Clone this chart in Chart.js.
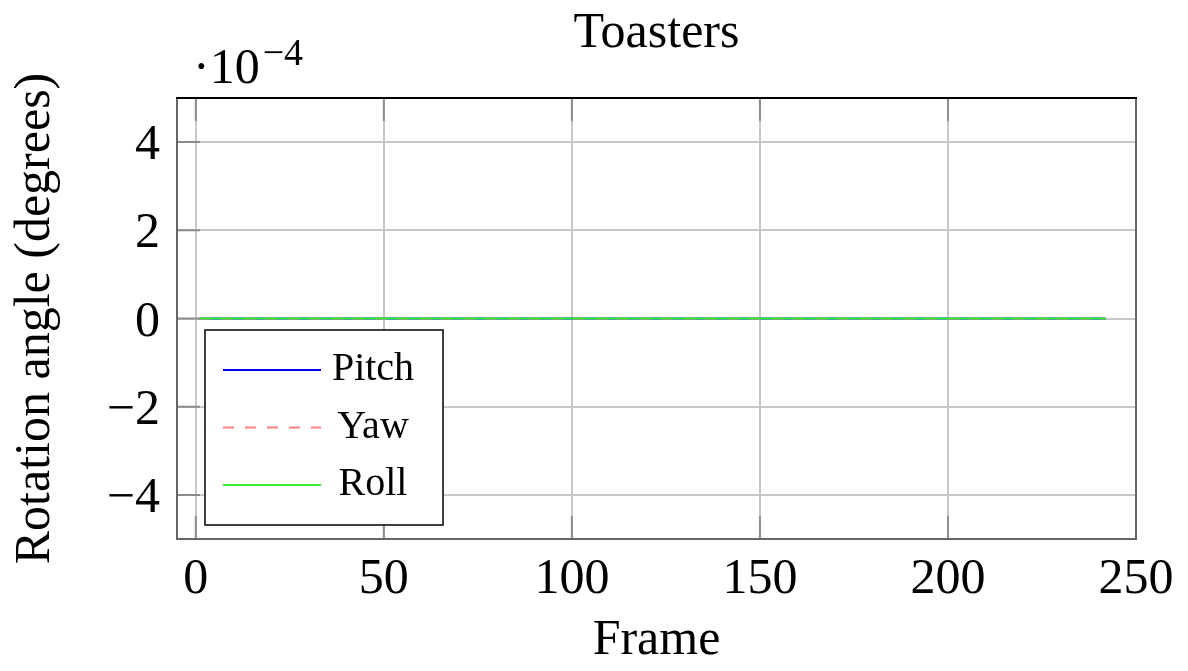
<!DOCTYPE html>
<html>
<head>
<meta charset="utf-8">
<script src="https://cdn.jsdelivr.net/npm/chart.js@4"></script>
<style>
  html, body { margin: 0; padding: 0; background: #fff; }
  #wrap { width: 1188px; height: 671px; }
</style>
</head>
<body>
<div id="wrap"><canvas id="c" width="1188" height="671"></canvas></div>
<script>
// Frame numbers of the sequence
const frames = [
  1,2,3,4,5,6,7,8,9,10,11,12,13,14,15,16,17,18,19,20,
  21,22,23,24,25,26,27,28,29,30,31,32,33,34,35,36,37,38,39,40,
  41,42,43,44,45,46,47,48,49,50,51,52,53,54,55,56,57,58,59,60,
  61,62,63,64,65,66,67,68,69,70,71,72,73,74,75,76,77,78,79,80,
  81,82,83,84,85,86,87,88,89,90,91,92,93,94,95,96,97,98,99,100,
  101,102,103,104,105,106,107,108,109,110,111,112,113,114,115,116,117,118,119,120,
  121,122,123,124,125,126,127,128,129,130,131,132,133,134,135,136,137,138,139,140,
  141,142,143,144,145,146,147,148,149,150,151,152,153,154,155,156,157,158,159,160,
  161,162,163,164,165,166,167,168,169,170,171,172,173,174,175,176,177,178,179,180,
  181,182,183,184,185,186,187,188,189,190,191,192,193,194,195,196,197,198,199,200,
  201,202,203,204,205,206,207,208,209,210,211,212,213,214,215,216,217,218,219,220,
  221,222,223,224,225,226,227,228,229,230,231,232,233,234,235,236,237,238,239,240,
  241,242
];

// Rotation angles per frame, in degrees
const pitch = [
  0,0,0,0,0,0,0,0,0,0, 0,0,0,0,0,0,0,0,0,0, 0,0,
  0,0,0,0,0,0,0,0,0,0, 0,0,0,0,0,0,0,0,0,0, 0,0,
  0,0,0,0,0,0,0,0,0,0, 0,0,0,0,0,0,0,0,0,0, 0,0,
  0,0,0,0,0,0,0,0,0,0, 0,0,0,0,0,0,0,0,0,0, 0,0,
  0,0,0,0,0,0,0,0,0,0, 0,0,0,0,0,0,0,0,0,0, 0,0,
  0,0,0,0,0,0,0,0,0,0, 0,0,0,0,0,0,0,0,0,0, 0,0,
  0,0,0,0,0,0,0,0,0,0, 0,0,0,0,0,0,0,0,0,0, 0,0,
  0,0,0,0,0,0,0,0,0,0, 0,0,0,0,0,0,0,0,0,0, 0,0,
  0,0,0,0,0,0,0,0,0,0, 0,0,0,0,0,0,0,0,0,0, 0,0,
  0,0,0,0,0,0,0,0,0,0, 0,0,0,0,0,0,0,0,0,0, 0,0,
  0,0,0,0,0,0,0,0,0,0, 0,0,0,0,0,0,0,0,0,0, 0,0
];
const yaw = [
  0,0,0,0,0,0,0,0,0,0, 0,0,0,0,0,0,0,0,0,0, 0,0,
  0,0,0,0,0,0,0,0,0,0, 0,0,0,0,0,0,0,0,0,0, 0,0,
  0,0,0,0,0,0,0,0,0,0, 0,0,0,0,0,0,0,0,0,0, 0,0,
  0,0,0,0,0,0,0,0,0,0, 0,0,0,0,0,0,0,0,0,0, 0,0,
  0,0,0,0,0,0,0,0,0,0, 0,0,0,0,0,0,0,0,0,0, 0,0,
  0,0,0,0,0,0,0,0,0,0, 0,0,0,0,0,0,0,0,0,0, 0,0,
  0,0,0,0,0,0,0,0,0,0, 0,0,0,0,0,0,0,0,0,0, 0,0,
  0,0,0,0,0,0,0,0,0,0, 0,0,0,0,0,0,0,0,0,0, 0,0,
  0,0,0,0,0,0,0,0,0,0, 0,0,0,0,0,0,0,0,0,0, 0,0,
  0,0,0,0,0,0,0,0,0,0, 0,0,0,0,0,0,0,0,0,0, 0,0,
  0,0,0,0,0,0,0,0,0,0, 0,0,0,0,0,0,0,0,0,0, 0,0
];
const roll = [
  0,0,0,0,0,0,0,0,0,0, 0,0,0,0,0,0,0,0,0,0, 0,0,
  0,0,0,0,0,0,0,0,0,0, 0,0,0,0,0,0,0,0,0,0, 0,0,
  0,0,0,0,0,0,0,0,0,0, 0,0,0,0,0,0,0,0,0,0, 0,0,
  0,0,0,0,0,0,0,0,0,0, 0,0,0,0,0,0,0,0,0,0, 0,0,
  0,0,0,0,0,0,0,0,0,0, 0,0,0,0,0,0,0,0,0,0, 0,0,
  0,0,0,0,0,0,0,0,0,0, 0,0,0,0,0,0,0,0,0,0, 0,0,
  0,0,0,0,0,0,0,0,0,0, 0,0,0,0,0,0,0,0,0,0, 0,0,
  0,0,0,0,0,0,0,0,0,0, 0,0,0,0,0,0,0,0,0,0, 0,0,
  0,0,0,0,0,0,0,0,0,0, 0,0,0,0,0,0,0,0,0,0, 0,0,
  0,0,0,0,0,0,0,0,0,0, 0,0,0,0,0,0,0,0,0,0, 0,0,
  0,0,0,0,0,0,0,0,0,0, 0,0,0,0,0,0,0,0,0,0, 0,0
];

const chartTitle = 'Toasters';
const seriesNames = ['Pitch', 'Yaw', 'Roll'];
const xTicks = [0, 50, 100, 150, 200, 250];
const yTicks = [-4e-4, -2e-4, 0, 2e-4, 4e-4];
const yTickLabels = ['\u22124', '\u22122', '0', '2', '4'];

const SERIF = "'Liberation Serif', 'DejaVu Serif', serif";

const toPoints = vals => frames.map((f, i) => ({ x: f, y: vals[i] }));

// pgfplots-style decorations: title over the axes, inward ticks, frame,
// exponent of the y axis and the legend box
const pgfDecor = {
  id: 'pgfDecor',
  beforeDatasetsDraw(chart) {
    const { ctx, chartArea: a, scales: { x, y } } = chart;
    const len = 23;
    ctx.save();
    ctx.strokeStyle = '#8c8c8c';
    ctx.lineWidth = 2;
    ctx.beginPath();
    xTicks.forEach(v => {
      const px = x.getPixelForValue(v);
      ctx.moveTo(px, a.bottom); ctx.lineTo(px, a.bottom - len);
      ctx.moveTo(px, a.top); ctx.lineTo(px, a.top + len);
    });
    yTicks.forEach(v => {
      const py = y.getPixelForValue(v);
      ctx.moveTo(a.left, py); ctx.lineTo(a.left + len, py);
    });
    ctx.stroke();
    ctx.restore();
  },
  afterDatasetsDraw(chart) {
    const { ctx, chartArea: a } = chart;
    ctx.save();
    // axis frame
    ctx.lineWidth = 2;
    ctx.strokeStyle = '#666';
    ctx.beginPath();
    ctx.moveTo(a.left, a.top); ctx.lineTo(a.left, a.bottom);
    ctx.lineTo(a.right, a.bottom); ctx.lineTo(a.right, a.top);
    ctx.stroke();
    ctx.strokeStyle = '#000';
    ctx.beginPath();
    ctx.moveTo(a.left - 1, a.top); ctx.lineTo(a.right + 1, a.top);
    ctx.stroke();

    // title, centred over the axes
    ctx.fillStyle = '#000';
    ctx.textBaseline = 'alphabetic';
    ctx.textAlign = 'center';
    ctx.font = '50px ' + SERIF;
    ctx.fillText(chartTitle, (a.left + a.right) / 2, a.top - 51);

    // exponent of the y axis
    ctx.textAlign = 'left';
    ctx.font = '50px ' + SERIF;
    const ex = a.left + 16, eb = a.top - 15;
    ctx.fillText('\u00b710', ex, eb);
    const w = ctx.measureText('\u00b710').width;
    ctx.font = '38px ' + SERIF;
    ctx.fillText('\u22124', ex + w + 3, eb - 18);

    // legend
    const bx = a.left + 28, by = a.bottom - 209, bw = 238, bh = 195;
    ctx.fillStyle = '#fff';
    ctx.fillRect(bx, by, bw, bh);
    ctx.strokeStyle = '#000';
    ctx.lineWidth = 1.5;
    ctx.strokeRect(bx, by, bw, bh);
    ctx.font = '40px ' + SERIF;
    ctx.textAlign = 'center';
    chart.data.datasets.forEach((ds, i) => {
      const ly = by + 40 + i * 57.5;
      ctx.strokeStyle = ds.borderColor;
      ctx.lineWidth = ds.borderWidth;
      ctx.setLineDash(ds.borderDash || []);
      ctx.beginPath();
      ctx.moveTo(bx + 18, ly); ctx.lineTo(bx + 116, ly);
      ctx.stroke();
      ctx.setLineDash([]);
      ctx.fillStyle = '#000';
      ctx.fillText(ds.label, bx + 168, ly + 10);
    });
    ctx.restore();
  }
};

new Chart(document.getElementById('c'), {
  type: 'line',
  data: {
    datasets: [
      { label: seriesNames[0], data: toPoints(pitch), borderColor: '#0000ff', borderWidth: 2, order: 2 },
      { label: seriesNames[1], data: toPoints(yaw), borderColor: '#ff8080', borderWidth: 2, borderDash: [11, 11], order: 1 },
      { label: seriesNames[2], data: toPoints(roll), borderColor: '#33ee33', borderWidth: 2, order: 0 }
    ]
  },
  options: {
    responsive: false,
    animation: false,
    devicePixelRatio: 1,
    layout: { padding: { left: 0, right: 52, top: 98, bottom: 0 } },
    elements: { point: { radius: 0 }, line: { tension: 0, fill: false } },
    plugins: {
      legend: { display: false },
      tooltip: { enabled: false },
      title: { display: false }
    },
    scales: {
      x: {
        type: 'linear',
        min: -5,
        max: 250,
        afterBuildTicks: s => { s.ticks = xTicks.map(v => ({ value: v })); },
        afterFit: s => { s.height = 132; },
        grid: { color: '#c8c8c8', lineWidth: 2, drawTicks: false },
        border: { display: false },
        ticks: {
          color: '#000',
          font: { family: SERIF, size: 50 },
          padding: 11,
          maxRotation: 0,
          autoSkip: false,
          callback: v => String(v)
        },
        title: {
          display: true,
          text: 'Frame',
          color: '#000',
          font: { family: SERIF, size: 50 },
          padding: { top: 0, bottom: 0 }
        }
      },
      y: {
        type: 'linear',
        min: -5e-4,
        max: 5e-4,
        afterBuildTicks: s => { s.ticks = yTicks.map(v => ({ value: v })); },
        afterFit: s => { s.width = 177; },
        grid: { color: '#c8c8c8', lineWidth: 2, drawTicks: false },
        border: { display: false },
        ticks: {
          color: '#000',
          font: { family: SERIF, size: 50 },
          padding: 17,
          labelOffset: 4,
          autoSkip: false,
          callback: (v, i) => yTickLabels[i]
        },
        title: {
          display: true,
          text: 'Rotation angle (degrees)',
          color: '#000',
          font: { family: SERIF, size: 50 },
          padding: { top: 6, bottom: 0 }
        }
      }
    }
  },
  plugins: [pgfDecor]
});
</script>
</body>
</html>
